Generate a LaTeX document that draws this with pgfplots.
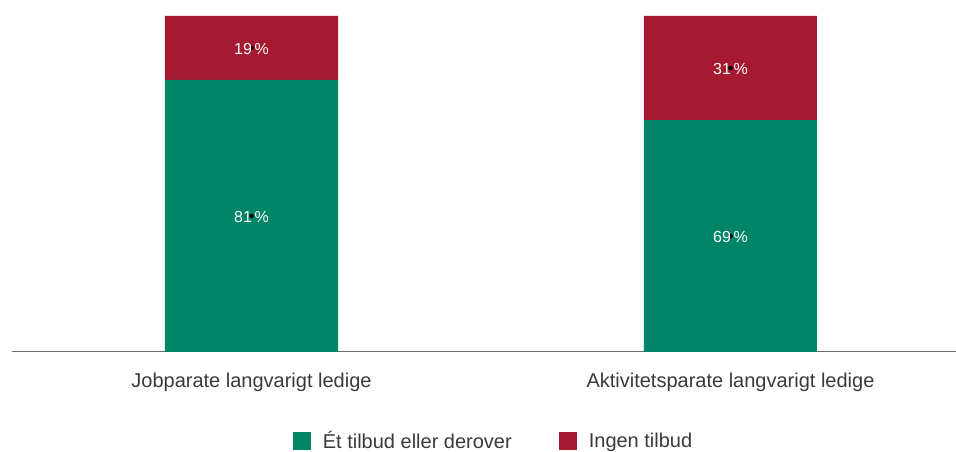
\documentclass[border=0pt]{standalone}
\usepackage{pgfplots}
\pgfplotsset{compat=1.18}
\usepackage{fontspec}
\setmainfont{Liberation Sans}
\definecolor{tilbudgreen}{HTML}{008566}
\definecolor{ingenred}{HTML}{A51A30}
\definecolor{axisgrey}{HTML}{6E6E6E}
\definecolor{textgrey}{HTML}{3A3A3A}

\pgfplotsset{
    frame/.style={
        at={(12pt,100pt)}, anchor=south west,
        scale only axis, width=944pt, height=336pt,
        ymin=0, ymax=100, xmin=-0.5, xmax=1.4708,
    },
}

\begin{document}
\begin{tikzpicture}
\useasboundingbox (0,0) rectangle (956pt,452pt);
\begin{axis}[
    frame,
    ybar stacked, bar width=173pt,
    axis x line*=bottom, axis y line=none,
    x axis line style={axisgrey, line width=1pt},
    xtick=data,
    xticklabels={Jobparate langvarigt ledige, Aktivitetsparate langvarigt ledige},
    major tick length=0pt,
    xticklabel style={font=\fontsize{20}{22}\selectfont, text=textgrey, anchor=base, yshift=-36pt},
    legend style={at={(0.5101,-0.265)}, anchor=center, draw=none, fill=none,
        legend columns=2, font=\fontsize{20}{22}\selectfont, text=textgrey,
        /tikz/every odd column/.append style={column sep=10pt},
        /tikz/every even column/.append style={column sep=45pt}},
    legend image code/.code={\fill[#1] (0pt,-9pt) rectangle (18pt,9pt);},
]
\addplot[fill=tilbudgreen, draw=none] coordinates {(0,81) (1,69)};
\addplot[fill=ingenred, draw=none] coordinates {(0,19) (1,31)};
\legend{Ét tilbud eller derover, Ingen tilbud}
\end{axis}
% segment labels, placed at the middle of each segment
\begin{axis}[frame, axis lines=none, xtick=\empty, ytick=\empty]
\addplot[only marks, mark=*, mark options={draw=none, fill=none},
    point meta=explicit symbolic, nodes near coords,
    nodes near coords style={font=\fontsize{16}{18}\selectfont, text=white, anchor=center, inner sep=0pt, yshift=-1pt}]
    coordinates {(0,40.5)[81\,\%] (0,90.5)[19\,\%] (1,34.5)[69\,\%] (1,84.5)[31\,\%]};
\end{axis}
\end{tikzpicture}
\end{document}
